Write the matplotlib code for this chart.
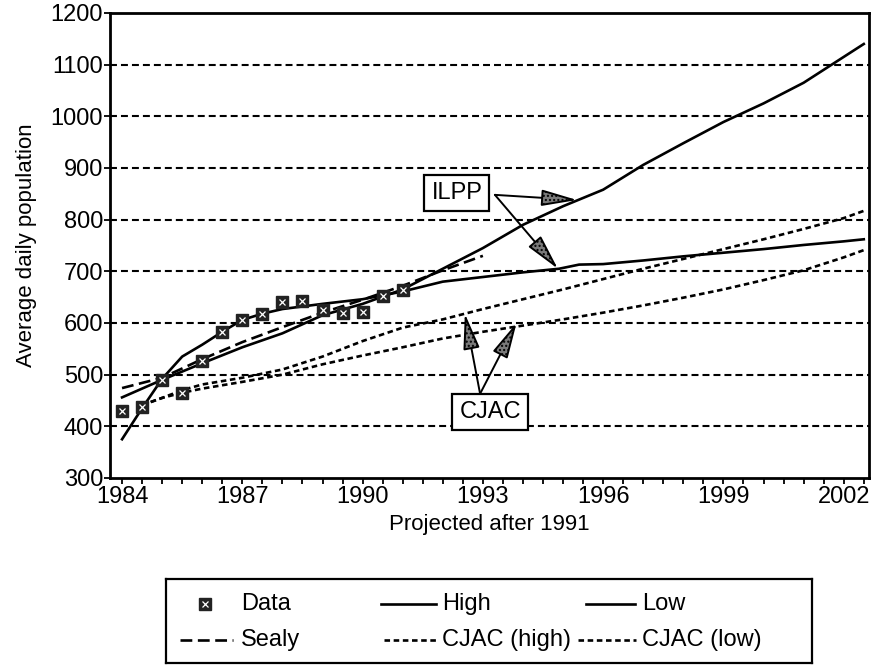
import matplotlib
matplotlib.use("Agg")
import matplotlib.pyplot as plt
from matplotlib.ticker import MultipleLocator

plt.rcParams['font.family'] = ['Liberation Sans', 'DejaVu Sans']
plt.rcParams['font.size'] = 17
plt.rcParams['lines.scale_dashes'] = False

# Observed average daily population (semi-annual)
data_years = [1984.0, 1984.5, 1985.0, 1985.5, 1986.0, 1986.5, 1987.0, 1987.5,
              1988.0, 1988.5, 1989.0, 1989.5, 1990.0, 1990.5, 1991.0]
data_vals = [430, 438, 490, 465, 527, 582, 606, 617, 641, 642, 626, 620, 621, 653, 663]

# ILPP projections
high_years = [1984, 1985, 1986, 1987, 1988, 1989, 1990, 1991, 1992, 1993,
              1994, 1995, 1996, 1997, 1998, 1999, 2000, 2001, 2002, 2002.5]
high_vals = [456, 490, 522, 553, 580, 615, 637, 665, 705, 745,
             790, 826, 858, 906, 948, 989, 1025, 1065, 1115, 1140]

low_years = [1984, 1984.5, 1985, 1985.5, 1986, 1986.5, 1987, 1987.5, 1988, 1989,
             1990, 1991, 1992, 1993, 1994, 1994.9, 1995.4, 1996, 1997, 1998,
             1999, 2000, 2001, 2002, 2002.5]
low_vals = [375, 435, 492, 535, 558, 583, 606, 618, 627, 637,
            646, 661, 680, 689, 698, 705, 713, 714, 721, 729,
            736, 743, 751, 758, 762]

# Sealy model
sealy_years = [1984, 1985, 1986, 1987, 1988, 1989, 1990, 1991, 1992, 1993]
sealy_vals = [474, 494, 530, 563, 592, 620, 645, 672, 702, 730]

# CJAC projections
cjac_years = [1984.5, 1985, 1985.5, 1986, 1987, 1988, 1989, 1990, 1991, 1992, 1993,
              1994, 1995, 1996, 1997, 1998, 1999, 2000, 2001, 2002, 2002.5]
cjac_high = [441, 455, 470, 481, 494, 510, 535, 565, 591, 607, 627,
             646, 665, 685, 705, 724, 743, 762, 782, 803, 817]
cjac_low = [441, 455, 465, 473, 486, 500, 520, 537, 553, 570, 583,
            595, 607, 620, 634, 649, 665, 683, 702, 727, 741]

year_ticks = [1984, 1987, 1990, 1993, 1996, 1999, 2002]

fig = plt.figure(figsize=(8.76, 6.66), dpi=100)
ax = fig.add_axes([0.1256, 0.2823, 0.8664, 0.6982])

grid_dash = (0, (5.0, 2.9))
cjac_dash = (0, (4.0, 2.6))
sealy_dash = (0, (8.5, 4.0))
lw = 1.9

for v in range(400, 1200, 100):
    ax.axhline(v, color='black', lw=1.5, ls=grid_dash, zorder=1)

ax.plot(cjac_years, cjac_high, color='black', lw=lw, ls=cjac_dash, zorder=2)
ax.plot(cjac_years, cjac_low, color='black', lw=lw, ls=cjac_dash, zorder=2)
ax.plot(sealy_years, sealy_vals, color='black', lw=lw, ls=sealy_dash, zorder=2)
ax.plot(high_years, high_vals, color='black', lw=lw, zorder=3)
ax.plot(low_years, low_vals, color='black', lw=lw, zorder=3)
ax.plot(data_years, data_vals, ls='none', marker='s', ms=8.5, mfc='#222222',
        mec='#222222', zorder=4)
ax.plot(data_years, data_vals, ls='none', marker='x', ms=5, mew=0.9,
        color='white', zorder=5)

ax.set_xlim(1983.70, 2002.63)
ax.set_ylim(300, 1200)
ax.set_xticks(year_ticks)
ax.xaxis.set_minor_locator(MultipleLocator(0.5))
ax.yaxis.set_major_locator(MultipleLocator(100))
ax.tick_params(axis='both', which='both', direction='out', length=4,
               width=1.3, color='black')
ax.tick_params(axis='y', pad=1)
ax.tick_params(axis='x', pad=2)
for s in ax.spines.values():
    s.set_linewidth(2.0)

ax.set_xlabel('Projected after 1991', labelpad=4, fontsize=16)
ax.set_ylabel('Average daily population', labelpad=10, fontsize=16)

# Callouts
arrow_kw = dict(arrowstyle='-|>,head_length=1.3,head_width=0.3', color='black',
                lw=1.4, shrinkA=0, shrinkB=0)
box_kw = dict(boxstyle='square,pad=0.3', fc='white', ec='black', lw=1.6)

for tip in [(1995.35, 838), (1994.87, 705)]:
    a = ax.annotate('', xy=tip, xytext=(1993.3, 848), arrowprops=arrow_kw, zorder=6)
    a.arrow_patch.set_facecolor('#7a7a7a')
    a.arrow_patch.set_hatch('....')
ax.text(1992.35, 852, 'ILPP', ha='center', va='center', bbox=box_kw, zorder=7)

for tip in [(1992.55, 618), (1993.84, 600)]:
    a = ax.annotate('', xy=tip, xytext=(1992.93, 463), arrowprops=arrow_kw, zorder=6)
    a.arrow_patch.set_facecolor('#7a7a7a')
    a.arrow_patch.set_hatch('....')
ax.text(1993.18, 428, 'CJAC', ha='center', va='center', bbox=box_kw, zorder=7)

# Legend box
lax = fig.add_axes([0.1895, 0.0045, 0.7374, 0.126])
lax.set_xlim(0, 1)
lax.set_ylim(0, 1)
lax.set_xticks([])
lax.set_yticks([])
for s in lax.spines.values():
    s.set_linewidth(1.6)

r1, r2 = 0.70, 0.27
lax.plot([0.060], [r1], ls='none', marker='s', ms=8.5, mfc='#222222', mec='#222222')
lax.plot([0.060], [r1], ls='none', marker='x', ms=5, mew=0.9, color='white')
lax.text(0.116, r1, 'Data', va='center')
lax.plot([0.333, 0.418], [r1, r1], color='black', lw=lw)
lax.text(0.428, r1, 'High', va='center')
lax.plot([0.650, 0.726], [r1, r1], color='black', lw=lw)
lax.text(0.737, r1, 'Low', va='center')
lax.plot([0.022, 0.104], [r2, r2], color='black', lw=lw, ls=sealy_dash)
lax.text(0.116, r2, 'Sealy', va='center')
lax.plot([0.338, 0.418], [r2, r2], color='black', lw=lw, ls=cjac_dash)
lax.text(0.428, r2, 'CJAC (high)', va='center')
lax.plot([0.638, 0.727], [r2, r2], color='black', lw=lw, ls=cjac_dash)
lax.text(0.737, r2, 'CJAC (low)', va='center')

fig.savefig('out.png', dpi=100)
